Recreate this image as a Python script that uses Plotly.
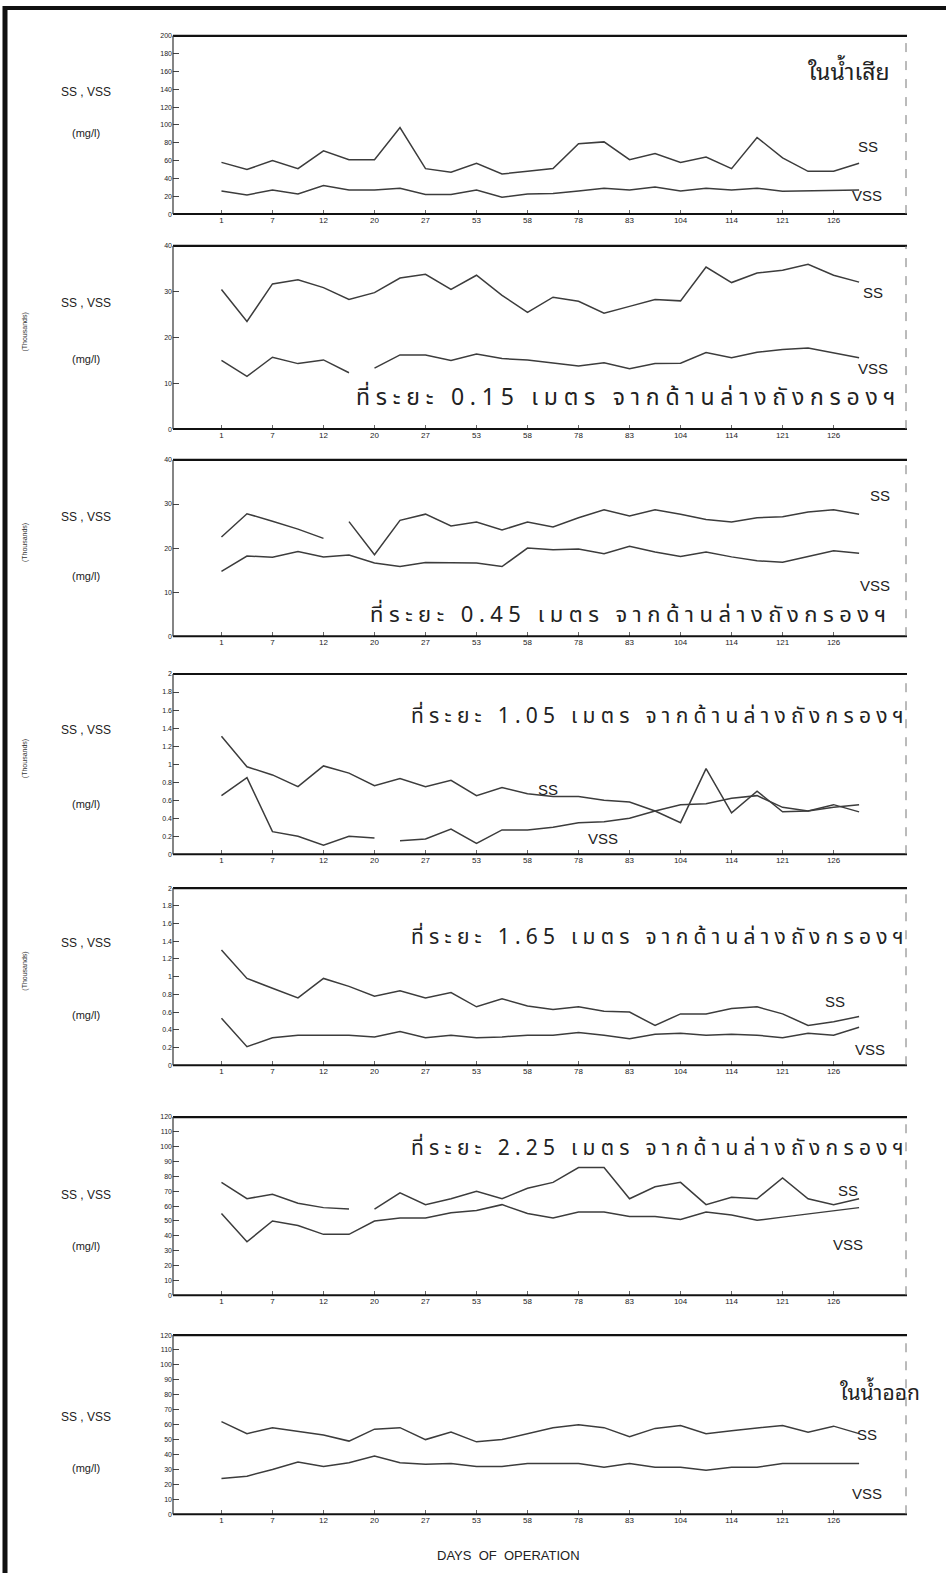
import plotly.graph_objects as go

W, H = 946, 1576

# x-axis: 26 sampling runs, every other one labelled with its day number
day_labels = ["1", "7", "12", "20", "27", "53", "58", "78", "83", "104", "114", "121", "126"]
n_points = 26

# Influent (ในน้ำเสีย), mg/l
ss_influent = [58, 50, 60, 51, 71, 61, 61, 97, 51, 47, 57, 45, 48, 51, 79, 81, 61, 68, 58, 64, 51, 86, 63, 48, 48, 57]
vss_influent = [26, 21.5, 27, 22.5, 32, 27, 27, 29, 22, 22, 27, 19, 22.5, 23, 26, 29, 27, 30.5, 26, 29, 27, 29, 25.5, 26, 27, 27]

# 0.15 m above filter bottom, thousands mg/l
ss_015 = [30.5, 23.5, 31.7, 32.6, 30.9, 28.3, 29.8, 33.0, 33.8, 30.5, 33.6, 29.2, 25.5, 28.8, 27.9, 25.3, 26.8, 28.3, 28.0, 35.4, 32.0, 34.1, 34.7, 36.0, 33.6, 32.1]
vss_015 = [15.0, 11.5, 15.7, 14.3, 15.1, 12.3, 13.3, 16.2, 16.2, 15.0, 16.4, 15.4, 15.1, 14.4, 13.8, 14.5, 13.2, 14.3, 14.4, 16.7, 15.6, 16.8, 17.4, 17.7, 16.6, 15.6]

# 0.45 m above filter bottom, thousands mg/l
ss_045 = [22.5, 27.8, 26.1, 24.3, 22.2, 26.0, 18.5, 26.3, 27.7, 25.0, 25.9, 24.1, 25.9, 24.8, 26.9, 28.7, 27.3, 28.7, 27.7, 26.5, 25.9, 26.9, 27.1, 28.2, 28.7, 27.7]
vss_045 = [14.7, 18.2, 17.9, 19.2, 18.0, 18.4, 16.6, 15.8, 16.7, 16.7, 16.6, 15.8, 20.0, 19.6, 19.8, 18.7, 20.4, 19.1, 18.1, 19.1, 18.0, 17.1, 16.8, 18.1, 19.4, 18.8]

# 1.05 m above filter bottom, thousands mg/l
ss_105 = [1.31, 0.97, 0.88, 0.75, 0.98, 0.90, 0.76, 0.84, 0.75, 0.82, 0.65, 0.74, 0.67, 0.64, 0.64, 0.60, 0.58, 0.48, 0.35, 0.95, 0.46, 0.70, 0.47, 0.48, 0.55, 0.47]
vss_105 = [0.65, 0.85, 0.25, 0.20, 0.10, 0.20, 0.18, 0.15, 0.17, 0.28, 0.12, 0.27, 0.27, 0.30, 0.35, 0.36, 0.40, 0.48, 0.55, 0.56, 0.62, 0.65, 0.52, 0.48, 0.52, 0.55]

# 1.65 m above filter bottom, thousands mg/l
ss_165 = [1.30, 0.98, 0.87, 0.76, 0.98, 0.89, 0.78, 0.84, 0.76, 0.82, 0.66, 0.75, 0.67, 0.63, 0.66, 0.61, 0.60, 0.45, 0.58, 0.58, 0.64, 0.66, 0.58, 0.45, 0.49, 0.55]
vss_165 = [0.53, 0.21, 0.31, 0.34, 0.34, 0.34, 0.32, 0.38, 0.31, 0.34, 0.31, 0.32, 0.34, 0.34, 0.37, 0.34, 0.30, 0.35, 0.36, 0.34, 0.35, 0.34, 0.31, 0.36, 0.34, 0.43]

# 2.25 m above filter bottom, mg/l
ss_225 = [76, 65, 68, 62, 59, 58, 58, 69, 61, 65, 70, 65, 72, 76, 86, 86, 65, 73, 76, 61, 66, 65, 79, 65, 61, 65]
vss_225 = [55, 36, 50, 47, 41, 41, 50, 52, 52, 55.6, 57, 61, 55, 52, 56, 56, 53, 53, 51, 56, 54, 50.5, 52.6, 54.6, 57, 59]

# Effluent (ในน้ำออก), mg/l
ss_effluent = [62, 54, 58, 55.5, 53, 49, 57, 58, 50, 55, 48.5, 50, 54, 58, 60, 58, 52, 57.5, 59.5, 54, 56, 58, 59.5, 55, 59, 54]
vss_effluent = [24, 25.5, 30, 35, 32, 34.5, 39, 34.5, 33.5, 34, 32, 32, 34, 34, 34, 31.5, 34, 31.5, 31.5, 29.5, 31.5, 31.5, 34, 34, 34, 34]

LINE = "#3c3c3c"
FONT = "Liberation Sans, Arial, sans-serif"
THAI = "TlwgTypewriter, Tlwg Typewriter, Noto Sans Thai, Noto Sans, DejaVu Sans, sans-serif"
THAI_HEAD = "Noto Sans Thai Looped, Noto Sans Thai, Noto Sans, DejaVu Sans, sans-serif"

X0, X1 = 173, 905          # plot area left / right (px)
XR = [-1.9, 26.8]          # x range in run index units

THAI_MARKS = set(chr(c) for c in [0x0E31] + list(range(0x0E34, 0x0E3B)) + list(range(0x0E47, 0x0E4F)))


def typewriter(text, gap="\u2005"):
    """Spread text cell by cell like a typewriter line (combining marks stay on their base)."""
    cells = []
    for ch in text:
        if ch in THAI_MARKS and cells:
            cells[-1] += ch
        else:
            cells.append(ch)
    return gap.join(cells)


def with_breaks(values, breaks):
    """x/y lists for a run series, leaving out the segment after each index in `breaks`."""
    xs, ys = [], []
    for k, v in enumerate(values):
        xs.append(k)
        ys.append(v)
        if k in breaks:
            xs.append(k + 0.5)
            ys.append(None)
    return xs, ys


def px(x):
    return x / W


def py(y):
    return 1 - y / H


panels = [
    dict(ss=ss_influent, vss=vss_influent, top=32, bot=211, ymax=200, dtick=20, thousands=False,
         side=(88, 130), ss_lab=(868, 143), vss_lab=(867, 192),
         title="ในน้ำเสีย", title_xy=(849, 66), title_size=23, spread=False,
         ss_breaks=(), vss_breaks=()),
    dict(ss=ss_015, vss=vss_015, top=243, bot=427, ymax=40, dtick=10, thousands=True,
         side=(300, 357), ss_lab=(873, 290), vss_lab=(873, 366),
         title="ที่ระยะ 0.15 เมตร จากด้านล่างถังกรองฯ", title_xy=(626, 396), title_size=23, spread=True,
         ss_breaks=(), vss_breaks=(5,)),
    dict(ss=ss_045, vss=vss_045, top=458, bot=635, ymax=40, dtick=10, thousands=True,
         side=(515, 575), ss_lab=(880, 494), vss_lab=(875, 584),
         title="ที่ระยะ 0.45 เมตร จากด้านล่างถังกรองฯ", title_xy=(628, 614), title_size=22, spread=True,
         ss_breaks=(4,), vss_breaks=()),
    dict(ss=ss_105, vss=vss_105, top=673, bot=854, ymax=2, dtick=0.2, thousands=True,
         side=(729, 804), ss_lab=(548, 789), vss_lab=(603, 838),
         title="ที่ระยะ 1.05 เมตร จากด้านล่างถังกรองฯ", title_xy=(657, 716), title_size=21, spread=True,
         ss_breaks=(), vss_breaks=(6,)),
    dict(ss=ss_165, vss=vss_165, top=888, bot=1066, ymax=2, dtick=0.2, thousands=True,
         side=(943, 1016), ss_lab=(835, 1002), vss_lab=(870, 1050),
         title="ที่ระยะ 1.65 เมตร จากด้านล่างถังกรองฯ", title_xy=(657, 938), title_size=21, spread=True,
         ss_breaks=(), vss_breaks=()),
    dict(ss=ss_225, vss=vss_225, top=1118, bot=1297, ymax=120, dtick=10, thousands=False,
         side=(1196, 1248), ss_lab=(848, 1192), vss_lab=(848, 1246),
         title="ที่ระยะ 2.25 เมตร จากด้านล่างถังกรองฯ", title_xy=(657, 1150), title_size=21, spread=True,
         ss_breaks=(5,), vss_breaks=()),
    dict(ss=ss_effluent, vss=vss_effluent, top=1337, bot=1517, ymax=120, dtick=10, thousands=False,
         side=(1419, 1471), ss_lab=(867, 1437), vss_lab=(867, 1496),
         title="ในน้ำออก", title_xy=(880, 1393), title_size=21, spread=False,
         ss_breaks=(), vss_breaks=()),
]

fig = go.Figure()
shapes = []
annotations = []
tick_idx = list(range(0, n_points, 2))

for i, p in enumerate(panels, start=1):
    xa = "x" if i == 1 else f"x{i}"
    ya = "y" if i == 1 else f"y{i}"
    for series, breaks in ((p["ss"], p["ss_breaks"]), (p["vss"], p["vss_breaks"])):
        xs, ys = with_breaks(series, breaks)
        fig.add_trace(go.Scatter(x=xs, y=ys, mode="lines", xaxis=xa, yaxis=ya, connectgaps=False,
                                 line=dict(color=LINE, width=1.5), showlegend=False,
                                 hoverinfo="skip"))
    dom_y = [py(p["bot"]), py(p["top"])]
    xkey = "xaxis" if i == 1 else f"xaxis{i}"
    ykey = "yaxis" if i == 1 else f"yaxis{i}"
    n_ticks = int(round(p["ymax"] / p["dtick"]))
    yvals = [round(k * p["dtick"], 3) for k in range(n_ticks + 1)]
    ytext = [("%g" % v) for v in yvals]
    fig.update_layout({
        xkey: dict(domain=[px(X0), px(X1)], range=XR, anchor=ya,
                   tickmode="array", tickvals=tick_idx, ticktext=day_labels,
                   ticks="inside", ticklen=4, tickcolor="#666", tickwidth=1,
                   tickfont=dict(family=FONT, size=8, color="#222"),
                   showgrid=False, zeroline=False, showline=False, fixedrange=True),
        ykey: dict(domain=dom_y, range=[0, p["ymax"]], anchor=xa,
                   tickmode="array", tickvals=yvals, ticktext=ytext,
                   ticks="inside", ticklen=6, tickcolor="#444", tickwidth=1,
                   tickfont=dict(family=FONT, size=7, color="#222"),
                   showgrid=False, zeroline=False, showline=False, fixedrange=True),
    })
    # panel frame: heavy top and bottom rules, thin left axis, faint dashed right edge
    shapes += [
        dict(type="line", xref="paper", yref="paper", x0=px(X0), x1=px(X1 + 2), y0=py(p["top"]), y1=py(p["top"]),
             line=dict(color="#111", width=2.2)),
        dict(type="line", xref="paper", yref="paper", x0=px(X0), x1=px(X1 + 2), y0=py(p["bot"]), y1=py(p["bot"]),
             line=dict(color="#111", width=2.0)),
        dict(type="line", xref="paper", yref="paper", x0=px(X0), x1=px(X0), y0=py(p["bot"]), y1=py(p["top"]),
             line=dict(color="#333", width=1.2)),
        dict(type="line", xref="paper", yref="paper", x0=px(X1 + 1), x1=px(X1 + 1), y0=py(p["bot"]), y1=py(p["top"]),
             line=dict(color="#777", width=1, dash="dash")),
    ]
    title = typewriter(p["title"]) if p["spread"] else p["title"]
    annotations += [
        dict(text="SS , VSS", x=px(86), y=py(p["side"][0]), xref="paper", yref="paper", showarrow=False,
             font=dict(family=FONT, size=12, color="#222"), xanchor="center", yanchor="middle"),
        dict(text="(mg/l)", x=px(86), y=py(p["side"][1]), xref="paper", yref="paper", showarrow=False,
             font=dict(family=FONT, size=11, color="#222"), xanchor="center", yanchor="middle"),
        dict(text="SS", x=px(p["ss_lab"][0]), y=py(p["ss_lab"][1]), xref="paper", yref="paper", showarrow=False,
             font=dict(family=FONT, size=15, color="#222"), xanchor="center", yanchor="middle"),
        dict(text="VSS", x=px(p["vss_lab"][0]), y=py(p["vss_lab"][1]), xref="paper", yref="paper", showarrow=False,
             font=dict(family=FONT, size=15, color="#222"), xanchor="center", yanchor="middle"),
        dict(text=title, x=px(p["title_xy"][0]), y=py(p["title_xy"][1]), xref="paper", yref="paper",
             showarrow=False,
             font=dict(family=THAI if p["spread"] else THAI_HEAD, size=p["title_size"], color="#222"),
             xanchor="center", yanchor="middle"),
    ]
    if p["thousands"]:
        annotations.append(dict(text="(Thousands)", x=px(25), y=py((p["top"] + p["bot"]) / 2 - 5),
                                xref="paper", yref="paper", showarrow=False, textangle=-90,
                                font=dict(family=FONT, size=7, color="#333"),
                                xanchor="center", yanchor="middle"))

annotations.append(dict(text="DAYS  OF  OPERATION", x=px(508), y=py(1558), xref="paper", yref="paper",
                        showarrow=False, font=dict(family=FONT, size=13, color="#222"),
                        xanchor="center", yanchor="middle"))

# page border of the scanned sheet (left and top edges)
shapes += [
    dict(type="line", xref="paper", yref="paper", x0=px(5), x1=px(5), y0=0, y1=py(2),
         line=dict(color="#111", width=5)),
    dict(type="line", xref="paper", yref="paper", x0=px(3), x1=1, y0=py(4), y1=py(4),
         line=dict(color="#111", width=4)),
]

fig.update_layout(width=W, height=H, margin=dict(l=0, r=0, t=0, b=0),
                  paper_bgcolor="white", plot_bgcolor="white",
                  shapes=shapes, annotations=annotations, showlegend=False)

fig.write_html("out.html")
